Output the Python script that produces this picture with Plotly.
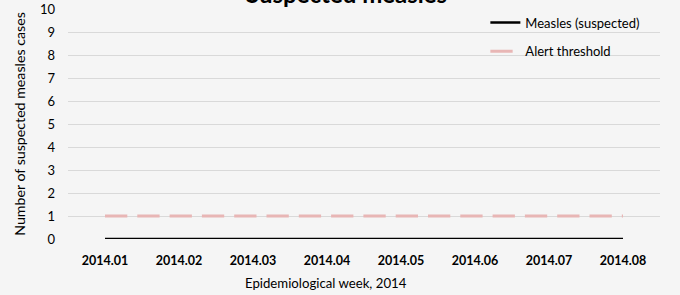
import plotly.graph_objects as go

weeks = ["2014.01", "2014.02", "2014.03", "2014.04", "2014.05", "2014.06", "2014.07", "2014.08"]
measles_suspected = [0, 0, 0, 0, 0, 0, 0, 0]
alert_threshold = [1, 1, 1, 1, 1, 1, 1, 1]
y_ticks = [0, 1, 2, 3, 4, 5, 6, 7, 8, 9, 10]

FONT = "Lato, 'Open Sans', sans-serif"

fig = go.Figure()
fig.add_trace(go.Scatter(
    x=weeks, y=measles_suspected, mode="lines", name="Measles (suspected)",
    line=dict(color="#000000", width=2.6), legendgroup="a",
))
fig.add_trace(go.Scatter(
    x=weeks, y=alert_threshold, mode="lines", name="Alert threshold",
    line=dict(color="#E8B6B5", width=3, dash="22.3px,10px"), legendgroup="b",
))

fig.update_layout(
    width=680, height=295,
    margin=dict(l=68, r=20, t=9, b=56, autoexpand=False),
    paper_bgcolor="#F5F5F5", plot_bgcolor="#F5F5F5",
    font=dict(family=FONT, color="#000000", size=13),
    showlegend=True,
    legend=dict(x=0.705, xanchor="left", y=1 + 1.5 / 230, yanchor="top",
                bgcolor="rgba(0,0,0,0)", font=dict(size=13, family=FONT),
                tracegroupgap=9, traceorder="grouped"),
    xaxis=dict(type="category", range=[-0.5, 7.5], showgrid=False, zeroline=False,
               showline=False, ticks="", tickfont=dict(size=12.5, family=FONT),
               tickmode="array", tickvals=weeks, automargin=False,
               ticktext=["<b>%s</b>" % w for w in weeks], ticklabelstandoff=12),
    yaxis=dict(range=[0, 10], tickvals=y_ticks, showgrid=True, gridcolor="#D9D9D9",
               gridwidth=1, zeroline=False, showline=False, ticks="", automargin=False,
               tickfont=dict(size=13, family=FONT), ticklabelstandoff=12,
               title=dict(text="Number of suspected measles cases",
                          font=dict(size=14.2, family=FONT), standoff=10)),
    annotations=[
        dict(text="<b>Suspected measles</b>", xref="paper", yref="paper",
             x=(346.5 - 68) / 592, y=1 + 15 / 230, xanchor="center", yanchor="middle",
             showarrow=False, font=dict(size=24, family=FONT, color="#000000")),
        dict(text="Epidemiological week, 2014", xref="paper", yref="paper",
             x=(326 - 68) / 592, y=-(283 - 239) / 230, xanchor="center", yanchor="middle",
             showarrow=False, font=dict(size=13.2, family=FONT)),
    ],
)

fig.write_html("out.html", config={"displayModeBar": False},
               post_script="document.body.style.margin='0';")
